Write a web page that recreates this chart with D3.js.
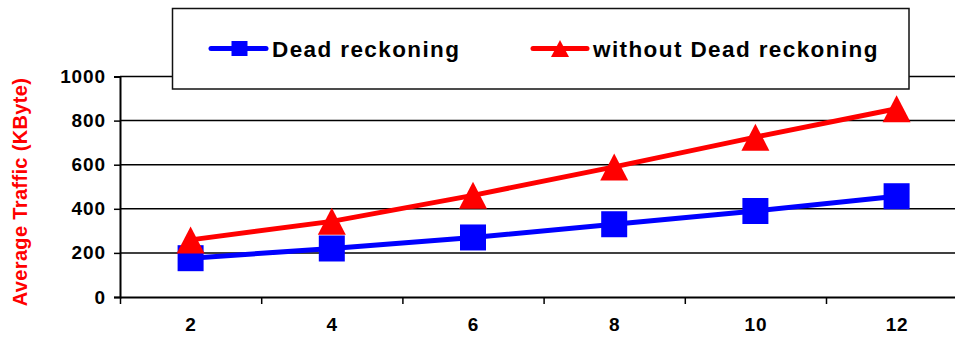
<!DOCTYPE html>
<html>
<head>
<meta charset="utf-8">
<script src="https://cdn.jsdelivr.net/npm/d3@7"></script>
<style>
  html, body { margin: 0; padding: 0; background: #fff; overflow: hidden; }
  svg { display: block; font-family: "Liberation Sans", Arial, sans-serif; }
</style>
</head>
<body>
<svg id="chart" width="955" height="339"></svg>
<script>
// Number of nodes on the x axis
const categories = [2, 4, 6, 8, 10, 12];
// Average traffic (KByte) per series
const deadReckoning = [176, 220, 270, 330, 390, 457];
const withoutDeadReckoning = [259, 343, 461, 590, 725, 854];
const yTicks = [0, 200, 400, 600, 800, 1000];
const seriesNames = ["Dead reckoning", "without Dead reckoning"];
const yTitle = "Average Traffic (KByte)";

const svg = d3.select("#chart");
const plotLeft = 120, plotTop = 76.5, plotBottom = 297, band = 141.2;
const plotRight = plotLeft + band * categories.length;

const x = d3.scaleLinear().domain([1, 13]).range([plotLeft, plotRight]);
const y = d3.scaleLinear().domain([0, 1000]).range([plotBottom, plotTop]);

// horizontal gridlines
svg.append("g")
  .selectAll("line")
  .data(yTicks.filter(d => d > 0))
  .join("line")
  .attr("x1", plotLeft).attr("x2", plotRight)
  .attr("y1", d => y(d)).attr("y2", d => y(d))
  .attr("stroke", "#000").attr("stroke-width", 1.5);

// y axis
const yAxis = svg.append("g")
  .attr("transform", `translate(${plotLeft},0)`)
  .call(d3.axisLeft(y).tickValues(yTicks).tickFormat(d3.format("d")).tickSize(6).tickPadding(8));
yAxis.select(".domain").attr("stroke", "#000").attr("stroke-width", 2);
yAxis.selectAll(".tick line").attr("stroke", "#000").attr("stroke-width", 1.5);
yAxis.selectAll(".tick text")
  .attr("fill", "#000").attr("font-size", 19).attr("font-weight", "bold")
  .attr("letter-spacing", 0.9)
  .attr("font-family", "Liberation Sans, Arial, sans-serif");

// x axis: ticks sit between categories
const bounds = d3.range(categories.length + 1).map(i => 1 + 2 * i);
const xAxis = svg.append("g")
  .attr("transform", `translate(0,${plotBottom})`)
  .call(d3.axisBottom(x).tickValues(bounds).tickSize(7).tickSizeOuter(0).tickFormat(""));
xAxis.select(".domain").attr("stroke", "#000").attr("stroke-width", 2);
xAxis.selectAll(".tick line").attr("stroke", "#000").attr("stroke-width", 1.5);

const xLabels = svg.append("g")
  .attr("transform", `translate(0,${plotBottom})`)
  .call(d3.axisBottom(x).tickValues(categories).tickSize(0).tickPadding(21));
xLabels.select(".domain").remove();
xLabels.selectAll(".tick text")
  .attr("fill", "#000").attr("font-size", 19).attr("font-weight", "bold")
  .attr("letter-spacing", 0.9)
  .attr("font-family", "Liberation Sans, Arial, sans-serif");

// y axis title
svg.append("text")
  .attr("transform", "translate(27,192) rotate(-90)")
  .attr("text-anchor", "middle")
  .attr("fill", "#ff0000").attr("font-size", 20).attr("font-weight", "bold")
  .attr("letter-spacing", 0.35)
  .text(yTitle);

// series
const line = d3.line().x((d, i) => x(categories[i])).y(d => y(d));

function triPath(w, h) {
  return `M0,${-h / 2}L${w / 2},${h / 2}L${-w / 2},${h / 2}Z`;
}

svg.append("path").datum(deadReckoning)
  .attr("d", line).attr("fill", "none")
  .attr("stroke", "#0000ff").attr("stroke-width", 5);
svg.append("g").selectAll("rect").data(deadReckoning).join("rect")
  .attr("x", (d, i) => x(categories[i]) - 13)
  .attr("y", d => y(d) - 13)
  .attr("width", 26).attr("height", 26)
  .attr("fill", "#0000ff");

svg.append("path").datum(withoutDeadReckoning)
  .attr("d", line).attr("fill", "none")
  .attr("stroke", "#ff0000").attr("stroke-width", 5);
svg.append("g").selectAll("path").data(withoutDeadReckoning).join("path")
  .attr("transform", (d, i) => `translate(${x(categories[i])},${y(d)})`)
  .attr("d", triPath(28, 27))
  .attr("fill", "#ff0000");

// legend
const lg = svg.append("g");
lg.append("rect")
  .attr("x", 172.5).attr("y", 8.5).attr("width", 736.5).attr("height", 80.5)
  .attr("fill", "#fff").attr("stroke", "#111").attr("stroke-width", 1.5);

const ly = 48.5;
lg.append("line").attr("x1", 211).attr("x2", 266).attr("y1", ly).attr("y2", ly)
  .attr("stroke", "#0000ff").attr("stroke-width", 5).attr("stroke-linecap", "round");
lg.append("rect").attr("x", 231.5).attr("y", ly - 7.5).attr("width", 16).attr("height", 15)
  .attr("fill", "#0000ff");
lg.append("text").attr("x", 272).attr("y", ly + 8.5)
  .attr("font-size", 22.5).attr("font-weight", "bold").attr("letter-spacing", 1.4)
  .attr("fill", "#000").text(seriesNames[0]);

lg.append("line").attr("x1", 533).attr("x2", 587).attr("y1", ly).attr("y2", ly)
  .attr("stroke", "#ff0000").attr("stroke-width", 5).attr("stroke-linecap", "round");
lg.append("path").attr("transform", `translate(560,${ly})`)
  .attr("d", triPath(18, 17)).attr("fill", "#ff0000");
lg.append("text").attr("x", 593).attr("y", ly + 8.5)
  .attr("font-size", 22.5).attr("font-weight", "bold").attr("letter-spacing", 1.4)
  .attr("fill", "#000").text(seriesNames[1]);
</script>
</body>
</html>
